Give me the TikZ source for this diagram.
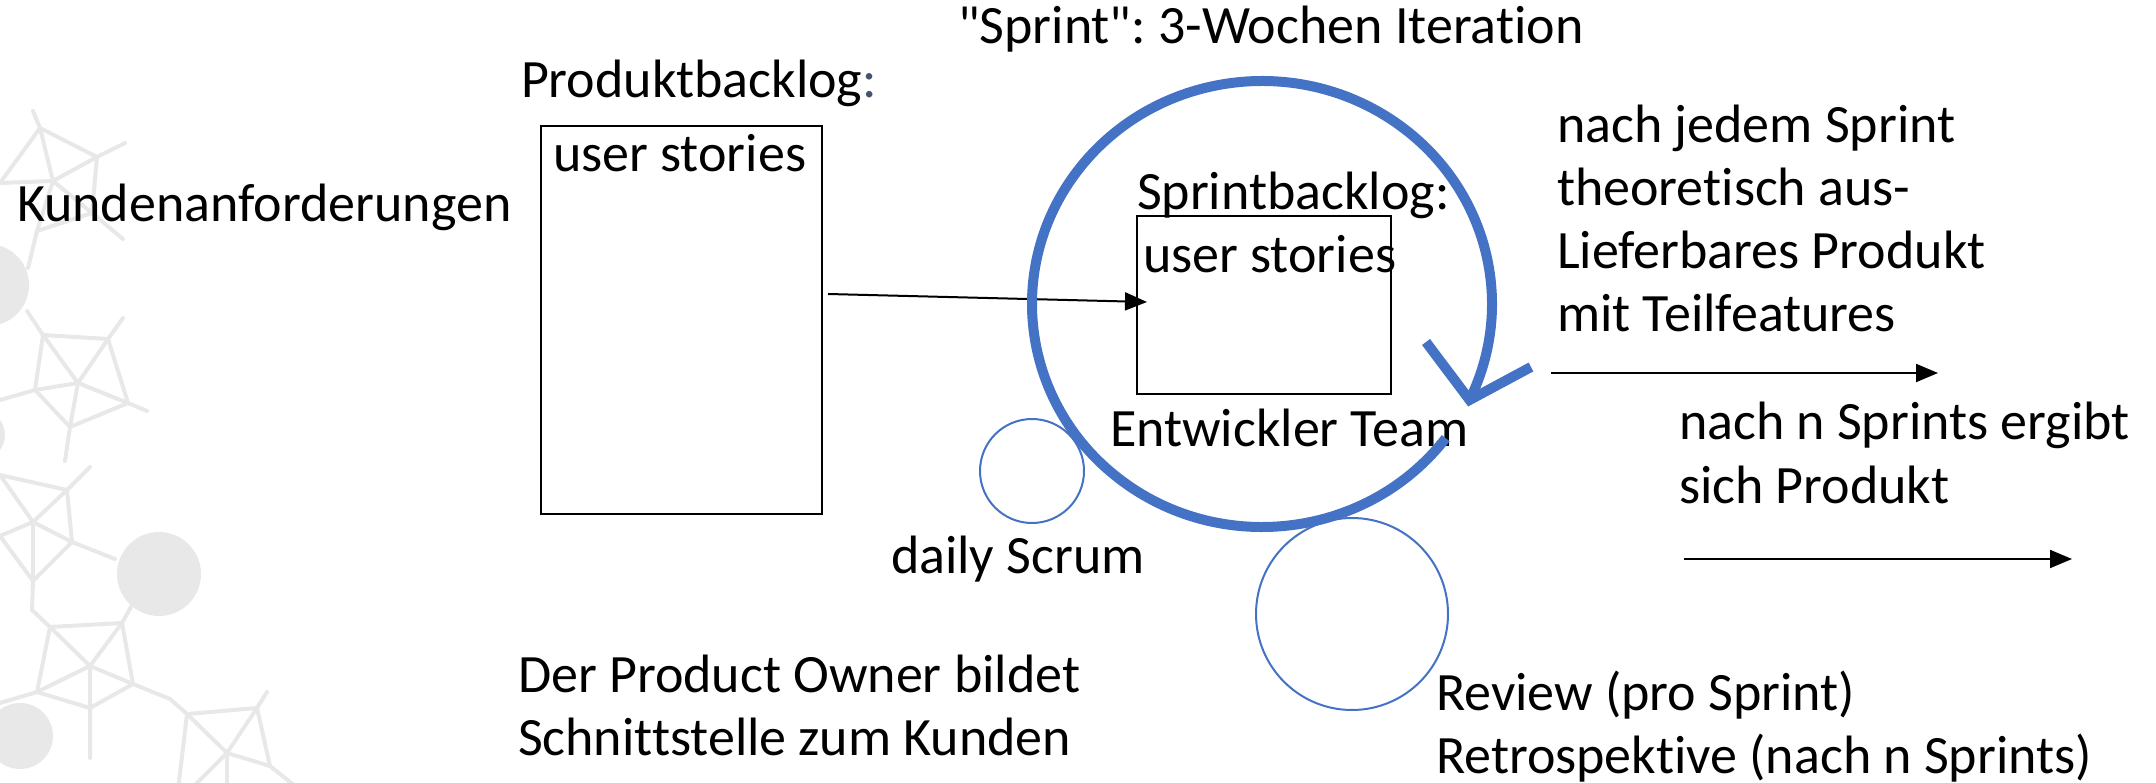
\documentclass[tikz,border=0pt]{standalone}
\usepackage{fontspec}
\setmainfont{Carlito}[Ligatures={NoCommon}]
\usetikzlibrary{arrows.meta,calc}
\definecolor{scrumblue}{HTML}{4472C4}
\definecolor{netgray}{HTML}{E8E8E8}
\definecolor{colongray}{HTML}{44546A}
\frenchspacing

\begin{document}
\begin{tikzpicture}[x=1pt,y=-1pt,
  every node/.style={inner sep=0pt, outer sep=0pt, font=\fontsize{54}{63}\selectfont},
  lbl/.style={anchor=base west, align=left},
  box/.style={draw=black, line width=2pt, anchor=north west},
  flow/.style={draw=black, line width=2pt, -{Triangle[length=22pt,width=18pt]}},
  ring/.style={draw=scrumblue, line width=2pt, circle},
  sprintarc/.style={draw=scrumblue, line width=10pt},
  net/.style={draw=netgray, line width=4pt, line cap=round},
  blob/.style={fill=netgray}
]
\useasboundingbox (0,0) rectangle (2156,783);

% ---- decorative network in the left margin ----
\begin{scope}
\clip (0,0) rectangle (2156,783);
\fill[blob] (-12,285) circle[radius=41];
\fill[blob] (-20,435) circle[radius=25];
\fill[blob] (159,574) circle[radius=42];
\fill[blob] (20,736) circle[radius=33];
% upper star
\draw[net] (33,111) -- (40,128) -- (97,157) -- (125,143);
\draw[net] (40,128) -- (0,183) -- (53,181) -- (40,128);
\draw[net] (97,157) -- (53,181) -- (92,213) -- (123,239);
\draw[net] (97,157) -- (92,213) -- (37,231) -- (53,181);
\draw[net] (37,231) -- (28,268);
% second star
\draw[net] (27,311) -- (43,335) -- (108,339) -- (123,318);
\draw[net] (108,339) -- (128,403) -- (147,411);
\draw[net] (128,403) -- (70,427) -- (65,461);
\draw[net] (70,427) -- (35,390) -- (43,335);
\draw[net] (0,400) -- (35,390) -- (78,383);
\draw[net] (43,335) -- (78,383) -- (108,339);
\draw[net] (78,383) -- (128,403);
\draw[net] (78,383) -- (70,427);
% third star
\draw[net] (0,475) -- (67,490) -- (90,467);
\draw[net] (67,490) -- (72,542) -- (115,559);
\draw[net] (72,542) -- (33,581) -- (32,610);
\draw[net] (33,581) -- (0,536);
\draw[net] (0,475) -- (33,522) -- (67,490);
\draw[net] (0,536) -- (33,522) -- (72,542);
\draw[net] (33,522) -- (33,581);
% fourth star
\draw[net] (32,610) -- (50,627) -- (122,623) -- (132,605);
\draw[net] (122,623) -- (133,684) -- (170,699);
\draw[net] (133,684) -- (90,708) -- (90,758);
\draw[net] (90,708) -- (37,692) -- (50,627);
\draw[net] (37,692) -- (0,703);
\draw[net] (50,627) -- (90,666) -- (122,623);
\draw[net] (37,692) -- (90,666) -- (133,684);
\draw[net] (90,666) -- (90,708);
% fifth star
\draw[net] (170,699) -- (187,714) -- (257,708) -- (267,692);
\draw[net] (257,708) -- (270,766) -- (300,790);
\draw[net] (187,714) -- (227,753) -- (257,708);
\draw[net] (227,753) -- (270,766);
\draw[net] (187,714) -- (178,790);
\draw[net] (227,753) -- (227,790);
\draw[net] (227,753) -- (190,790);
\end{scope}

% ---- product backlog ----
\node[lbl] (pbl) at (521,98) {Produktbacklog\textcolor{colongray}{:}};
\node[box, minimum width=281pt, minimum height=388pt] (pb) at (541,126) {};
\node[lbl] (pbus) at (553,172) {user stories};
\node[lbl] (kund) at (17,222) {Kundenanforderungen};

% ---- sprint ----
\node[lbl] (title) at (958,44) {\textquotedbl Sprint\textquotedbl: 3-Wochen Iteration};
\node[box, minimum width=254pt, minimum height=178pt] (sb) at (1137,216) {};
\node[lbl] (sbl) at (1137,210) {Sprintbacklog:};
\node[lbl] (sbus) at (1143,273) {user stories};
\node[lbl] (team) at (1110,447) {Entwickler Team};

\draw[flow] ([shift={(6,168)}]pb.north east) -- ([shift={(10,86)}]sb.north west);

% daily scrum and review circles
\node[ring, minimum size=104pt] (ds) at (1032,471) {};
\node[ring, minimum size=192pt] (rv) at (1352,614) {};
\node[lbl] (daily) at (891,573) {daily Scrum};

% sprint cycle
\coordinate (sc) at (1262,304);
\draw[sprintarc] ($(sc)+(37:230 and 223)$) arc[start angle=37, end angle=385.5, x radius=230, y radius=223];
\coordinate (ht) at ($(sc)+(25.5:230 and 223)$);
\coordinate (hl) at (1426,342);
\coordinate (hr) at (1531,367);
\draw[sprintarc, line join=miter] (hl) -- (ht) -- (hr);

% ---- outcomes (multi-line nodes sit on their last baseline) ----
\node[lbl] (inc) at (1557,332) {nach jedem Sprint\\theoretisch aus-\\Lieferbares Produkt\\mit Teilfeatures};
\coordinate (r1s) at (1551,373);
\coordinate (r1e) at (1938,373);
\draw[flow] (r1s) -- (r1e);
\node[lbl] (prod) at (1679,503) {nach n Sprints ergibt\\sich Produkt};
\coordinate (r2s) at (1684,559);
\coordinate (r2e) at (2072,559);
\draw[flow] (r2s) -- (r2e);

\node[lbl] (po) at (518,755) {Der Product Owner bildet\\Schnittstelle zum Kunden};
\node[lbl] (review) at (1436,773) {Review (pro Sprint)\\Retrospektive (nach n Sprints)};
\end{tikzpicture}
\end{document}
